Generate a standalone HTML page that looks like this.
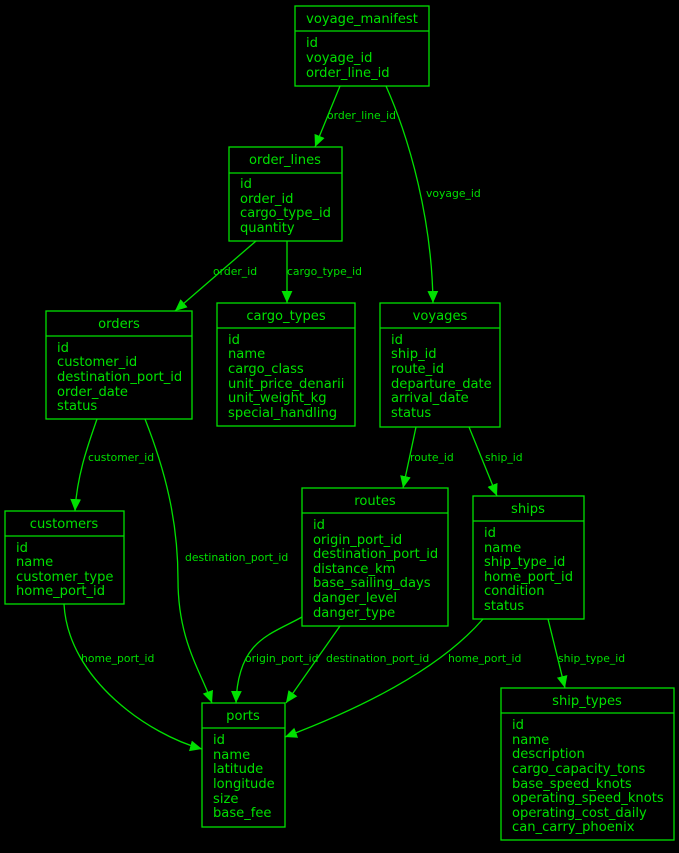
<!DOCTYPE html>
<html><head><meta charset="utf-8"><style>
body{margin:0;background:#000;width:679px;height:848px;overflow:hidden}
svg text{font-family:"DejaVu Sans","Liberation Sans",sans-serif;fill:#00e000}
.t{font-size:13.1px}
.l{font-size:10.8px}
</style></head><body>
<svg width="679" height="848" viewBox="0 0 679 848" xmlns="http://www.w3.org/2000/svg">
<defs><marker id="a" viewBox="0 0 10 10" refX="10" refY="5" markerWidth="12" markerHeight="12" markerUnits="userSpaceOnUse" orient="auto"><path d="M0,0.5 L10,5 L0,9.5 z" fill="#00e000"/></marker></defs>
<g fill="none" stroke="#00e000" stroke-width="1.3">
<rect x="295" y="6" width="134" height="80"/><line x1="295" y1="31" x2="429" y2="31"/>
<rect x="229" y="147" width="113" height="94"/><line x1="229" y1="173" x2="342" y2="173"/>
<rect x="46" y="311" width="146" height="108"/><line x1="46" y1="336" x2="192" y2="336"/>
<rect x="217" y="303" width="138" height="123"/><line x1="217" y1="328" x2="355" y2="328"/>
<rect x="380" y="303" width="120" height="124"/><line x1="380" y1="328" x2="500" y2="328"/>
<rect x="5" y="511" width="119" height="93"/><line x1="5" y1="536" x2="124" y2="536"/>
<rect x="302" y="488" width="146" height="138"/><line x1="302" y1="513" x2="448" y2="513"/>
<rect x="473" y="496" width="111" height="123"/><line x1="473" y1="521" x2="584" y2="521"/>
<rect x="202" y="703" width="83" height="124"/><line x1="202" y1="728" x2="285" y2="728"/>
<rect x="501" y="688" width="173" height="152"/><line x1="501" y1="713" x2="674" y2="713"/>
<g marker-end="url(#a)">
<path d="M340,86 L315,147"/>
<path d="M386,86 C410,140 432,220 433,303"/>
<path d="M256,241 L175,311"/>
<path d="M287,241 L287,303"/>
<path d="M97,419 C88,445 77,475 75,511"/>
<path d="M145,419 C165,470 178,520 178,580 C178,640 200,670 212,703"/>
<path d="M416,427 L403,488"/>
<path d="M469,427 L497,496"/>
<path d="M64,604 C68,680 150,735 202,749"/>
<path d="M302,617 C270,635 238,640 236,703"/>
<path d="M340,626 L286,703"/>
<path d="M483,619 C430,680 330,720 285,737"/>
<path d="M548,619 L565,688"/>
</g></g>
<g class="l">
<text x="327" y="119">order_line_id</text>
<text x="426" y="197">voyage_id</text>
<text x="213" y="275">order_id</text>
<text x="287" y="275">cargo_type_id</text>
<text x="88" y="461">customer_id</text>
<text x="185" y="561">destination_port_id</text>
<text x="410" y="461">route_id</text>
<text x="485" y="461">ship_id</text>
<text x="81" y="662">home_port_id</text>
<text x="245" y="662">origin_port_id</text>
<text x="326" y="662">destination_port_id</text>
<text x="448" y="662">home_port_id</text>
<text x="558" y="662">ship_type_id</text>
</g>
<g class="t" text-anchor="middle">
<text x="362" y="23">voyage_manifest</text>
<text x="285" y="164">order_lines</text>
<text x="119" y="328">orders</text>
<text x="286" y="320">cargo_types</text>
<text x="440" y="320">voyages</text>
<text x="64" y="528">customers</text>
<text x="375" y="505">routes</text>
<text x="528" y="513">ships</text>
<text x="243" y="720">ports</text>
<text x="587" y="705">ship_types</text>
</g>
<g class="t">
<text x="306" y="47">id</text><text x="306" y="62">voyage_id</text><text x="306" y="77">order_line_id</text>
<text x="240" y="188">id</text><text x="240" y="203">order_id</text><text x="240" y="217">cargo_type_id</text><text x="240" y="232">quantity</text>
<text x="57" y="352">id</text><text x="57" y="366">customer_id</text><text x="57" y="381">destination_port_id</text><text x="57" y="396">order_date</text><text x="57" y="410">status</text>
<text x="228" y="344">id</text><text x="228" y="358">name</text><text x="228" y="373">cargo_class</text><text x="228" y="388">unit_price_denarii</text><text x="228" y="402">unit_weight_kg</text><text x="228" y="417">special_handling</text>
<text x="391" y="344">id</text><text x="391" y="358">ship_id</text><text x="391" y="373">route_id</text><text x="391" y="388">departure_date</text><text x="391" y="402">arrival_date</text><text x="391" y="417">status</text>
<text x="16" y="552">id</text><text x="16" y="566">name</text><text x="16" y="581">customer_type</text><text x="16" y="595">home_port_id</text>
<text x="313" y="529">id</text><text x="313" y="544">origin_port_id</text><text x="313" y="558">destination_port_id</text><text x="313" y="573">distance_km</text><text x="313" y="587">base_sailing_days</text><text x="313" y="602">danger_level</text><text x="313" y="617">danger_type</text>
<text x="484" y="537">id</text><text x="484" y="552">name</text><text x="484" y="566">ship_type_id</text><text x="484" y="581">home_port_id</text><text x="484" y="595">condition</text><text x="484" y="610">status</text>
<text x="213" y="744">id</text><text x="213" y="759">name</text><text x="213" y="773">latitude</text><text x="213" y="788">longitude</text><text x="213" y="803">size</text><text x="213" y="817">base_fee</text>
<text x="512" y="729">id</text><text x="512" y="744">name</text><text x="512" y="758">description</text><text x="512" y="773">cargo_capacity_tons</text><text x="512" y="788">base_speed_knots</text><text x="512" y="802">operating_speed_knots</text><text x="512" y="817">operating_cost_daily</text><text x="512" y="831">can_carry_phoenix</text>
</g>
</svg>
</body></html>
